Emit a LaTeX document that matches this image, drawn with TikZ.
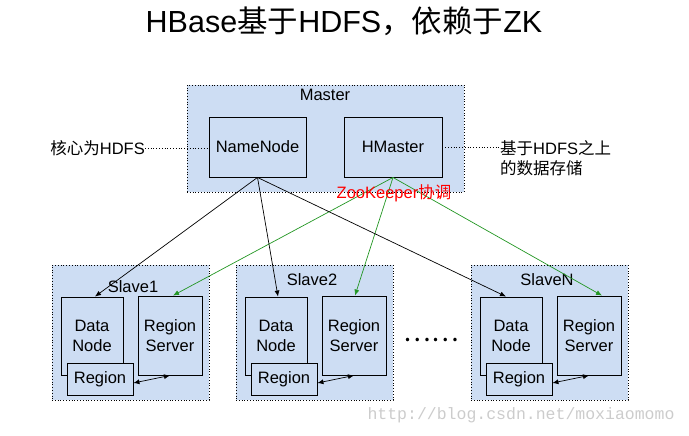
\documentclass[tikz,border=0pt]{standalone}
\usepackage{fontspec}
\setmainfont{Liberation Sans}
\setmonofont{Liberation Mono}
\newfontfamily\cjk{Noto Sans CJK SC}
\usetikzlibrary{positioning, arrows.meta, calc}
\definecolor{boxblue}{RGB}{205,221,243}
\definecolor{zkgreen}{RGB}{34,150,34}

\tikzset{
  group/.style={draw, dotted, fill=boxblue, line width=0.8pt, inner sep=0pt},
  unit/.style={draw, solid, fill=boxblue, line width=0.9pt, align=center, inner sep=0pt},
  arr/.style={line width=0.7pt, -{Latex[length=6pt,width=5pt]}},
  twoway/.style={line width=0.7pt, {Latex[length=6pt,width=5pt]}-{Latex[length=6pt,width=5pt]}}
}

\begin{document}
\begin{tikzpicture}[x=1pt, y=-1pt, every node/.style={font=\fontsize{16.5}{20}\selectfont}]
\useasboundingbox (0,0) rectangle (689,436);

\node[font=\fontsize{30.5}{33}\selectfont] (title) at (344,21) {HBase{\cjk 基于}HDFS{\cjk ，依赖于}ZK};

%// master part
\node[group, minimum width=277pt, minimum height=107pt] (master) at (325.5,138.5) {};
\node (mlabel) at (325,95) {Master};
\node[unit, minimum width=97pt, minimum height=60pt] (nn) at (257.5,147) {NameNode};
\node[unit, minimum width=98pt, minimum height=60pt] (hm) at (393,147) {HMaster};

\node[anchor=east, inner sep=0pt] (core) at (145,148) {{\cjk 核心为}HDFS};
\node[anchor=west, align=left, inner sep=0pt] (store) at (500,158) {{\cjk 基于}HDFS{\cjk 之上}\\{\cjk 的数据存储}};
\draw[dotted, line width=0.8pt] (core.east) -- (core.east -| nn.west);
\draw[dotted, line width=0.8pt] (hm.east) -- (hm.east -| store.west);

%// slaves
\foreach \i/\x/\ly/\lx in {1/52/287/81, 2/236/280/76, N/471/280/76} {
  \node[group, minimum width=157pt, minimum height=135pt] (s\i) at (\x+78.5,332.5) {};
  \node (sl\i) at (\x+\lx,\ly) {Slave\i};
  \node[unit, minimum width=62pt, minimum height=78pt] (dn\i) at (\x+40,336) {Data\\Node};
  \node[unit, minimum width=64pt, minimum height=79pt] (rs\i) at (\x+118,335.5) {Region\\Server};
  \node[unit, minimum width=66pt, minimum height=32pt] (rg\i) at (\x+48,379) {Region};
  \draw[twoway] ([yshift=-4pt]rg\i.east) -- (rs\i.south);
}

\node[font=\fontsize{26}{28}\selectfont\cjk] (dots) at (431,340) {……};

\foreach \i/\ds/\rs in {1/3pt/3pt, 2/2pt/1pt, N/-5pt/13pt} {
  \draw[arr] (nn.south) -- ([xshift=\ds]dn\i.north);
  \draw[arr, zkgreen] (hm.south) -- ([xshift=\rs]rs\i.north);
}

\node[text=red] (zk) at (394,193) {ZooKeeper{\cjk 协调}};

\node[text=gray!40, font=\fontsize{16.5}{18}\ttfamily] (mark) at (521,415) {http://blog.csdn.net/moxiaomomo};
\end{tikzpicture}
\end{document}
